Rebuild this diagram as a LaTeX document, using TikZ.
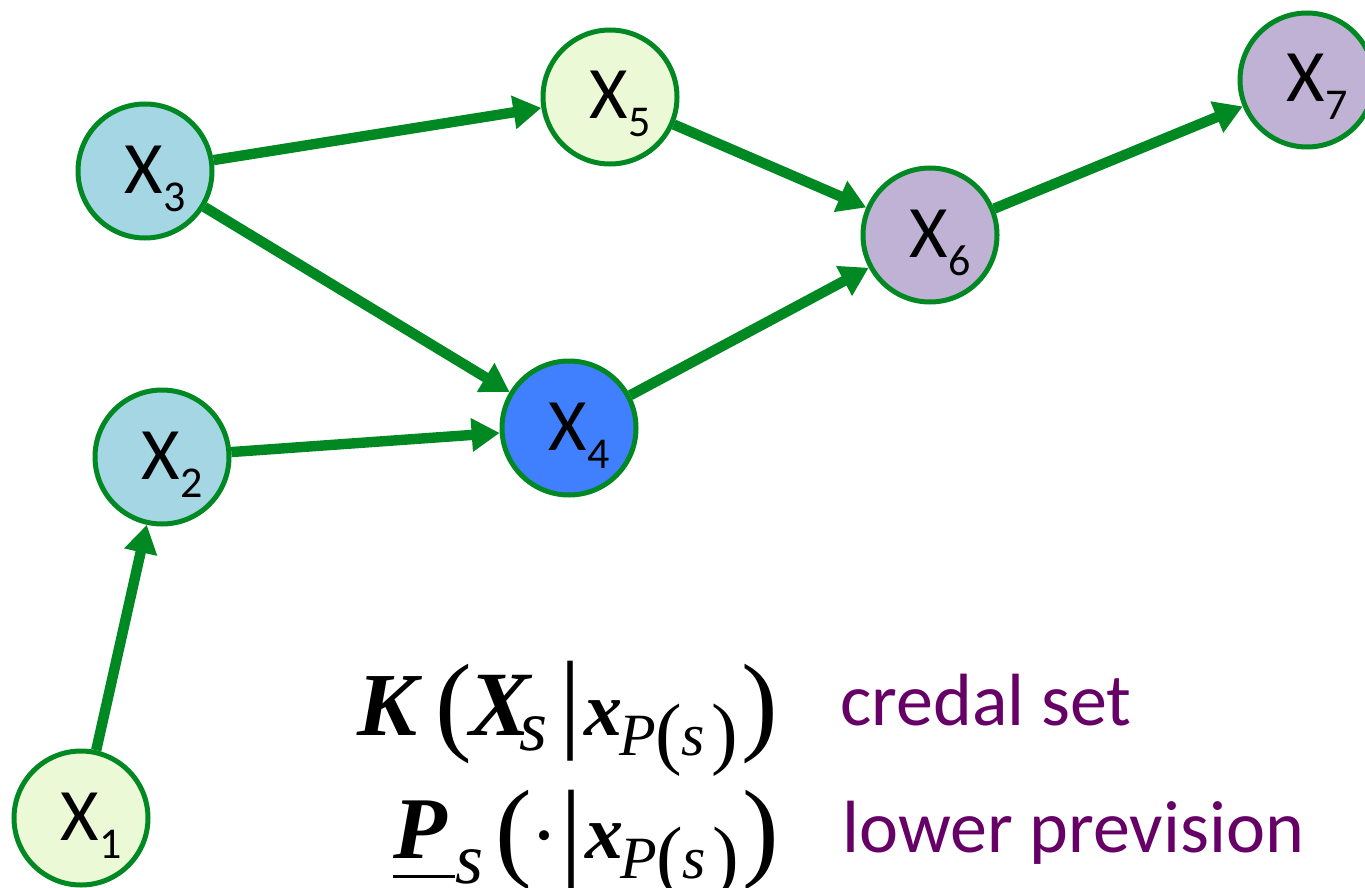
\documentclass[tikz,border=0pt]{standalone}
\usepackage{fontspec}
\setmainfont{Liberation Serif}
\newfontfamily\carlito{Carlito}
\usepackage{tikz}
\usetikzlibrary{arrows.meta}

\definecolor{arcgreen}{RGB}{0,136,34}
\definecolor{leafgreen}{RGB}{236,249,214}
\definecolor{paleblue}{RGB}{164,214,228}
\definecolor{deepblue}{RGB}{64,128,255}
\definecolor{lilac}{RGB}{192,178,212}
\definecolor{plum}{RGB}{102,0,102}

% variable name with its index
\newcommand{\xv}[1]{\kern10pt X\raisebox{-9pt}{\fontsize{22}{22}\selectfont#1}}
% pieces of the formulas: fixed advance, size, shift down
\newcommand{\bi}[3]{\makebox[#1][l]{\fontsize{#2}{#2}\selectfont\bfseries\itshape #3}}
\newcommand{\lo}[4]{\makebox[#1][l]{\raisebox{-#2}{\fontsize{#3}{#3}\selectfont\itshape #4}}}
\newcommand{\up}[4]{\makebox[#1][l]{\raisebox{-#2}{\fontsize{#3}{#3}\selectfont #4}}}
\newcommand{\parent}{\bi{17.5pt}{38}{x}\lo{18pt}{10pt}{30}{P}\up{13pt}{12pt}{40}{(}\lo{15pt}{10pt}{30}{s}\up{15pt}{12pt}{40}{)}}

\begin{document}
\begin{tikzpicture}[x=0.5pt, y=-0.5pt, >={Triangle[length=14pt,width=16pt]},
	   v/.style={circle, draw=arcgreen, line width=2.5pt, minimum size=67pt, inner sep=0pt,
	     text height=31pt, text depth=9pt, font=\carlito\fontsize{37}{37}\selectfont},
	   e/.style={->, draw=arcgreen, line width=5.2pt},
	   lbl/.style={inner sep=0pt, text=plum, font=\carlito\fontsize{37}{37}\selectfont},
	   fml/.style={inner sep=0pt, anchor=base west}]
	  \useasboundingbox (0,0) rectangle (1365,888);
	  \node[v, fill=leafgreen] (x1) at (81,818) {\xv{1}};
	  \node[v, fill=paleblue] (x2) at (162,457) {\xv{2}};
	  \node[v, fill=paleblue] (x3) at (145,171) {\xv{3}};
	  \node[v, fill=deepblue] (x4) at (569,428) {\xv{4}};
	  \node[v, fill=leafgreen] (x5) at (610,97) {\xv{5}};
	  \node[v, fill=lilac] (x6) at (930,235) {\xv{6}};
	  \node[v, fill=lilac] (x7) at (1307,80) {\xv{7}};
	  \draw[e] (x1)--(x2); \draw[e] (x2)--(x4); \draw[e] (x3)--(x4);
	  \draw[e] (x3)--(x5); \draw[e] (x5)--(x6); \draw[e] (x4)--(x6);
	  \draw[e] (x6)--(x7);
	  % local models
	  \node[fml] (kset) at (357,735)
	    {\bi{39pt}{45}{K}\up{17pt}{2.5pt}{55}{(}\bi{25pt}{46}{X}\lo{20pt}{7.5pt}{36}{s}\up{12.5pt}{1pt}{55}{|}\parent\up{10pt}{2.5pt}{55}{)}};
	  \node[fml] (lprev) at (393,858)
	    {\makebox[0pt][l]{\rule[-10pt]{31pt}{1.5pt}}\bi{31pt}{44}{P}\lo{20pt}{12.5pt}{36}{s}\up{17.5pt}{4pt}{55}{(}\up{15pt}{2.5pt}{42}{·}\up{12.5pt}{4pt}{55}{|}\parent\up{10pt}{4pt}{55}{)}};
	  \node[lbl, anchor=base west] (credal) at (840,725) {credal set};
	  \node[lbl, anchor=base west] (lower) at (842,852) {lower prevision};
	\end{tikzpicture}
\end{document}
